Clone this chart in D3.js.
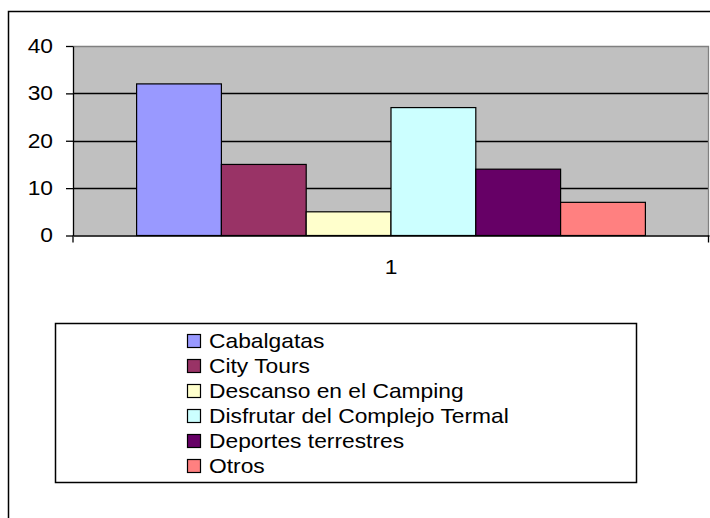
<!DOCTYPE html>
<html>
<head>
<meta charset="utf-8">
<script src="https://cdn.jsdelivr.net/npm/d3@7"></script>
<style>
  html, body { margin: 0; padding: 0; background: #fff; }
  svg { display: block; font-family: "Liberation Sans", Arial, sans-serif; }
</style>
</head>
<body>
<svg id="chart" width="710" height="518"></svg>
<script>
const categories = ["1"];
const seriesNames = ["Cabalgatas", "City Tours", "Descanso en el Camping", "Disfrutar del Complejo Termal", "Deportes terrestres", "Otros"];
const seriesValues = [32, 15, 5, 27, 14, 7];
const seriesColors = ["#9999FF", "#993366", "#FFFFCC", "#CCFFFF", "#660066", "#FF8080"];
const yTicks = [0, 10, 20, 30, 40];

const SX = 1.14; // horizontal stretch of the text, as in the reference
const FS = 20;

const svg = d3.select("#chart");

// outer chart frame (cropped at right/bottom)
svg.append("rect")
  .attr("x", 8.5).attr("y", 11.5)
  .attr("width", 760).attr("height", 560)
  .attr("fill", "#fff").attr("stroke", "#000").attr("stroke-width", 1.5);

const plot = { left: 73, right: 709, top: 46, bottom: 235.5 };

const y = d3.scaleLinear().domain([0, 40]).range([plot.bottom, plot.top]);
const x0 = d3.scaleBand().domain(categories).range([plot.left, plot.right]).padding(0);
const x1 = d3.scaleBand().domain(seriesNames).range([0, x0.bandwidth()]).paddingInner(0).paddingOuter(0.75);

// plot background
svg.append("rect")
  .attr("x", plot.left).attr("y", plot.top)
  .attr("width", plot.right - plot.left).attr("height", plot.bottom - plot.top)
  .attr("fill", "#C0C0C0");

// gridlines
svg.append("g").selectAll("line")
  .data(yTicks.filter(d => d > 0 && d < 40))
  .join("line")
  .attr("x1", plot.left).attr("x2", plot.right)
  .attr("y1", d => Math.round(y(d)) + 0.5).attr("y2", d => Math.round(y(d)) + 0.5)
  .attr("stroke", "#000").attr("stroke-width", 1.3);

// plot border top/right (gray)
svg.append("path")
  .attr("d", `M${plot.left},${plot.top + 0.5}H${plot.right - 0.5}V${plot.bottom}`)
  .attr("fill", "none").attr("stroke", "#808080").attr("stroke-width", 1.3);

// bars
const data = seriesNames.map((n, i) => ({ name: n, value: seriesValues[i], color: seriesColors[i], cat: categories[0] }));
svg.append("g").selectAll("rect")
  .data(data)
  .join("rect")
  .attr("x", d => x0(d.cat) + x1(d.name))
  .attr("y", d => y(d.value))
  .attr("width", x1.bandwidth())
  .attr("height", d => plot.bottom - y(d.value))
  .attr("fill", d => d.color)
  .attr("stroke", "#000").attr("stroke-width", 1.2);

function stretch(sel) {
  sel.each(function () {
    const t = d3.select(this);
    const x = +t.attr("x") || 0;
    t.attr("x", x / SX).attr("transform", `scale(${SX},1)`);
  });
}

// y axis
const yAxis = svg.append("g")
  .attr("transform", `translate(${plot.left},0)`)
  .call(d3.axisLeft(y).tickValues(yTicks).tickSize(7).tickPadding(13).tickSizeOuter(0));
yAxis.select(".domain").attr("stroke", "#000").attr("stroke-width", 1.3);
yAxis.selectAll(".tick line").attr("stroke", "#000").attr("stroke-width", 1.3);
yAxis.selectAll(".tick text").attr("font-size", FS).attr("fill", "#000")
  .attr("font-family", "Liberation Sans, Arial, sans-serif").call(stretch);

// x axis
const xAxis = svg.append("g")
  .attr("transform", `translate(0,${plot.bottom})`)
  .call(d3.axisBottom(x0).tickSize(0).tickPadding(24).tickSizeOuter(0));
xAxis.select(".domain").attr("stroke", "#000").attr("stroke-width", 1.3);
xAxis.selectAll(".tick text").attr("font-size", FS).attr("fill", "#000")
  .attr("font-family", "Liberation Sans, Arial, sans-serif").call(stretch);
// category boundary tick marks
xAxis.append("g").selectAll("line")
  .data([plot.left, plot.right - 0.5])
  .join("line")
  .attr("x1", d => d).attr("x2", d => d)
  .attr("y1", 0).attr("y2", 7)
  .attr("stroke", "#000").attr("stroke-width", 1.3);

// legend
const legend = svg.append("g");
legend.append("rect")
  .attr("x", 55.5).attr("y", 323.5)
  .attr("width", 581).attr("height", 159)
  .attr("fill", "#fff").attr("stroke", "#000").attr("stroke-width", 1.5);
const items = legend.selectAll("g.item")
  .data(data)
  .join("g")
  .attr("class", "item")
  .attr("transform", (d, i) => `translate(187,${334 + i * 25})`);
items.append("rect")
  .attr("x", 0.5).attr("y", 0.5)
  .attr("width", 13).attr("height", 13)
  .attr("fill", d => d.color)
  .attr("stroke", "#000").attr("stroke-width", 1.2);
items.append("text")
  .attr("x", 22).attr("y", 13.5)
  .attr("font-size", FS).attr("fill", "#000")
  .text(d => d.name)
  .call(stretch);
</script>
</body>
</html>
